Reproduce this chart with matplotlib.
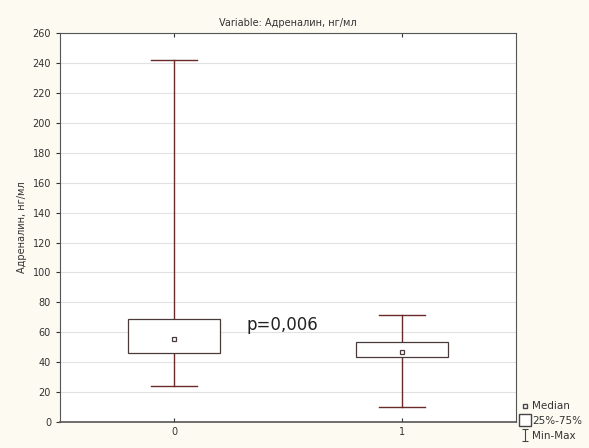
import matplotlib.pyplot as plt
import numpy as np
from matplotlib.path import Path
from matplotlib.lines import Line2D

groups = ['0', '1']
mins = [24, 10]
q1 = [46, 43.5]
medians = [55.5, 46.8]
q3 = [68.8, 53.5]
maxs = [242, 71.5]

bg = '#fdfaf2'
line_col = '#6b2a2a'
box_col = '#4a3a3a'

fig = plt.figure(figsize=(5.89, 4.48), dpi=100, facecolor=bg)
ax = fig.add_axes([0.102, 0.058, 0.774, 0.868])
ax.set_facecolor('white')

pos = np.arange(len(groups))
bw = 0.4
cw = 0.2
for i in pos:
    # whiskers
    ax.plot([i, i], [mins[i], q1[i]], color=line_col, lw=1, zorder=2)
    ax.plot([i, i], [q3[i], maxs[i]], color=line_col, lw=1, zorder=2)
    ax.plot([i - cw / 2, i + cw / 2], [mins[i], mins[i]], color=line_col, lw=1, zorder=2)
    ax.plot([i - cw / 2, i + cw / 2], [maxs[i], maxs[i]], color=line_col, lw=1, zorder=2)
    # box
    ax.add_patch(plt.Rectangle((i - bw / 2, q1[i]), bw, q3[i] - q1[i],
                               facecolor='white', edgecolor=box_col, lw=0.9, zorder=3))
    ax.plot(i, medians[i], marker='s', ms=3.5, mfc='white', mec=box_col, mew=0.9, zorder=4)

ax.set_xlim(-0.5, 1.5)
ax.set_ylim(0, 260)
ax.set_yticks(np.arange(0, 261, 20))
ax.set_xticks(pos)
ax.set_xticklabels(groups)
ax.yaxis.grid(True, color='#e2e2e2', lw=0.8)
ax.set_axisbelow(True)
ax.tick_params(axis='x', direction='in', top=True, length=3, labelsize=7, colors='#333333')
ax.tick_params(axis='y', direction='out', length=3, labelsize=7, colors='#333333')
for s in ax.spines.values():
    s.set_color('#555555')
    s.set_linewidth(0.8)
ax.spines['bottom'].set_linewidth(1.2)

ax.set_ylabel('Адреналин, нг/мл', fontsize=7, color='#333333')
ax.set_title('Variable: Адреналин, нг/мл', fontsize=7, color='#333333', pad=5)

ax.text(0.32, 65, 'p=0,006', fontsize=12, color='#222222', va='center', ha='left')

# legend
ibar = Path([(-0.5, -1), (0.5, -1), (0, -1), (0, 1), (-0.5, 1), (0.5, 1)],
            [Path.MOVETO, Path.LINETO, Path.MOVETO, Path.LINETO, Path.MOVETO, Path.LINETO])
handles = [
    Line2D([], [], marker='s', ms=3.5, mfc='white', mec='#444444', ls='none'),
    Line2D([], [], marker='s', ms=9, mfc='white', mec='#444444', ls='none'),
    Line2D([], [], marker=ibar, ms=9, mec='#444444', mfc='none', ls='none', mew=0.8),
]
leg = fig.legend(handles, ['Median', '25%-75%', 'Min-Max'], loc='lower left',
                 bbox_to_anchor=(0.872, 0.0), frameon=False, fontsize=7.5,
                 handlelength=0.8, handletextpad=0.3, labelspacing=0.45, borderpad=0.2)
for t in leg.get_texts():
    t.set_color('#333333')

fig.savefig('out.png', dpi=100, facecolor=bg)
